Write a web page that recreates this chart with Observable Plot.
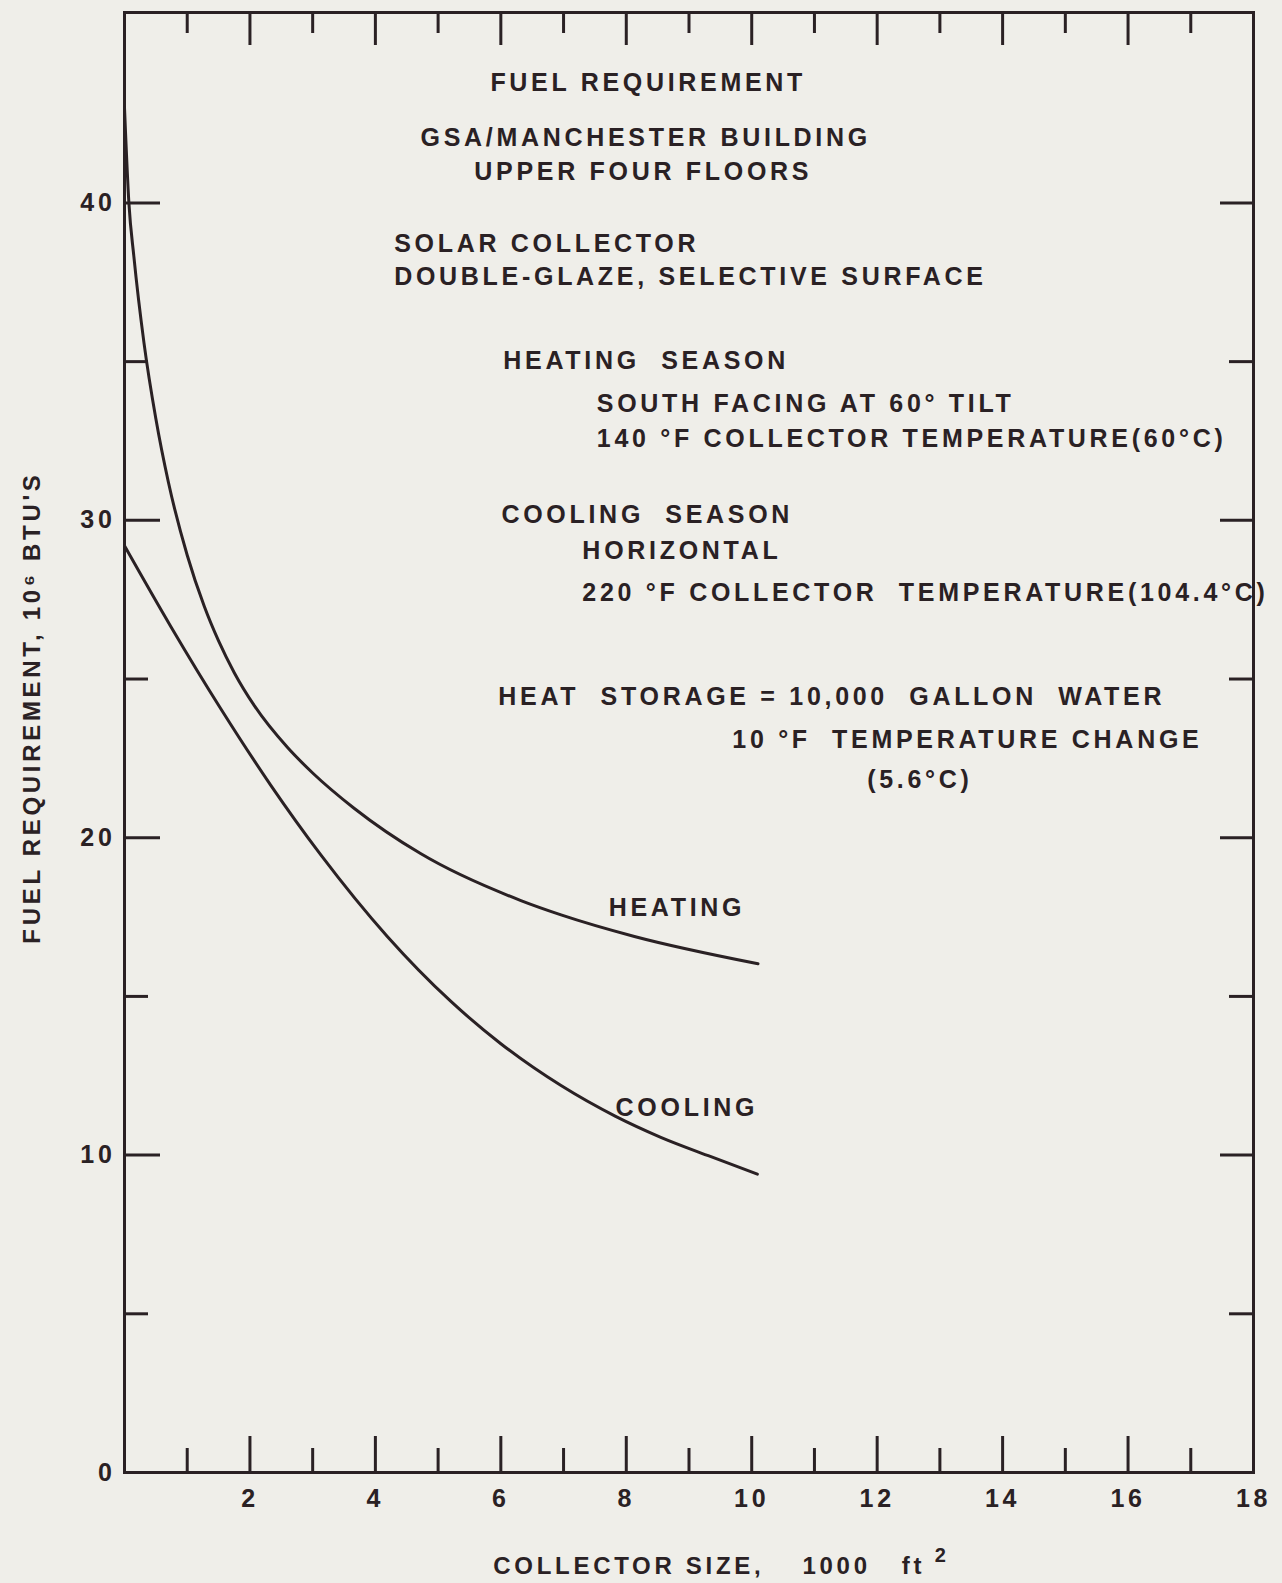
<!DOCTYPE html>
<html>
<head>
<meta charset="utf-8">
<script src="https://cdn.jsdelivr.net/npm/d3@7"></script>
<script src="https://cdn.jsdelivr.net/npm/@observablehq/plot@0.6"></script>
<style>
html, body { margin: 0; padding: 0; background: #efeee9; }
#chart svg { display: block; }
</style>
</head>
<body>
<div id="chart"></div>
<script>
// ---- data ----
const heatingSize = [0, 0.07, 0.15, 0.31, 0.5, 0.7, 1.0, 1.27, 1.5, 1.75, 2.07, 2.6, 3.0, 3.66, 4.72, 6.32, 6.96, 8.13, 10.1];
const heatingFuel = [43.0, 40.0, 38.3, 35.6, 33.2, 31.2, 28.9, 27.3, 26.2, 25.2, 24.16, 22.84, 22.04, 20.93, 19.5, 18.02, 17.57, 16.89, 16.03];
const coolingSize = [0, 0.74, 1.53, 2.33, 3.13, 4.19, 5.2, 6.0, 6.96, 7.83, 8.55, 9.35, 10.09];
const coolingFuel = [29.2, 26.65, 24.08, 21.66, 19.46, 16.89, 14.85, 13.51, 12.19, 11.22, 10.56, 9.95, 9.4];

const xMajorTicks = [2, 4, 6, 8, 10, 12, 14, 16, 18];
const xMinorTicks = [1, 3, 5, 7, 9, 11, 13, 15, 17];
const yMajorTicks = [0, 10, 20, 30, 40];
const yMinorTicks = [5, 15, 25, 35];
const xTickLabels = ["2", "4", "6", "8", "10", "12", "14", "16", "18"];
const yTickLabels = ["0", "10", "20", "30", "40"];

const xTitleParts = ["COLLECTOR SIZE,", "1000   ft", "2"];
const yTitle = "FUEL REQUIREMENT, 10⁶ BTU'S";

const headerLines = ["FUEL REQUIREMENT", "GSA/MANCHESTER BUILDING", "UPPER FOUR FLOORS"];
const noteLines = [
  "SOLAR COLLECTOR",
  "DOUBLE-GLAZE, SELECTIVE SURFACE",
  "HEATING  SEASON",
  "SOUTH FACING AT 60° TILT",
  "140 °F COLLECTOR TEMPERATURE(60°C)",
  "COOLING  SEASON",
  "HORIZONTAL",
  "220 °F COLLECTOR  TEMPERATURE(104.4°C)",
  "HEAT  STORAGE = 10,000  GALLON  WATER",
  "10 °F  TEMPERATURE CHANGE"
];
const centeredNote = "(5.6°C)";
const seriesNames = ["HEATING", "COOLING"];

// ---- tables built from the arrays ----
const heating = heatingSize.map((x, i) => ({x, y: heatingFuel[i]}));
const cooling = coolingSize.map((x, i) => ({x, y: coolingFuel[i]}));

const ink = "#2a2124";
const bg = "#efeee9";

// annotation anchors in data units (collector size, fuel requirement)
const headerPos = [[8.35, 43.79], [8.31, 42.06], [8.27, 40.99]];
const notePos = [
  [4.30, 38.72], [4.30, 37.68],
  [6.04, 35.03], [7.53, 33.68], [7.53, 32.55],
  [6.01, 30.18], [7.30, 29.02], [7.30, 27.72],
  [5.96, 24.42], [9.69, 23.09]
];
const headers = headerLines.map((t, i) => ({t, x: headerPos[i][0], y: headerPos[i][1]}));
const notes = noteLines.map((t, i) => ({t, x: notePos[i][0], y: notePos[i][1]}));
const seriesLabels = [
  {t: seriesNames[0], x: 7.72, y: 17.77},
  {t: seriesNames[1], x: 7.83, y: 11.50}
];

const W = 1282, H = 1583;
const mL = 124, mR = 29, mT = 12, mB = 111;
const fw = W - mL - mR, fh = H - mT - mB;

const chart = Plot.plot({
  width: W,
  height: H,
  marginLeft: mL,
  marginRight: mR,
  marginTop: mT,
  marginBottom: mB,
  style: {
    background: bg,
    color: ink,
    fontFamily: "'Liberation Sans', Arial, sans-serif",
    fontSize: "25px",
    fontWeight: "bold",
    letterSpacing: "3.7px"
  },
  x: {domain: [0, 18]},
  y: {domain: [0, 46]},
  marks: [
    // tick labels
    Plot.axisX(xMajorTicks, {tickSize: 0, tickPadding: 17, tickFormat: (d, i) => xTickLabels[i], label: null, fontSize: 25}),
    Plot.axisY(yMajorTicks, {tickSize: 0, tickPadding: 9, tickFormat: (d, i) => yTickLabels[i], label: null, fontSize: 25}),
    // inward tick marks
    Plot.ruleX(xMajorTicks, {x: d => d, stroke: ink, strokeWidth: 3, insetTop: fh - 36}),
    Plot.ruleX(xMinorTicks, {x: d => d, stroke: ink, strokeWidth: 3, insetTop: fh - 24}),
    Plot.ruleX(xMajorTicks, {x: d => d, stroke: ink, strokeWidth: 3, insetBottom: fh - 33}),
    Plot.ruleX(xMinorTicks, {x: d => d, stroke: ink, strokeWidth: 3, insetBottom: fh - 21}),
    Plot.ruleY(yMajorTicks, {y: d => d, stroke: ink, strokeWidth: 3, insetRight: fw - 36}),
    Plot.ruleY(yMinorTicks, {y: d => d, stroke: ink, strokeWidth: 3, insetRight: fw - 24}),
    Plot.ruleY(yMajorTicks, {y: d => d, stroke: ink, strokeWidth: 3, insetLeft: fw - 33}),
    Plot.ruleY(yMinorTicks, {y: d => d, stroke: ink, strokeWidth: 3, insetLeft: fw - 24}),
    Plot.frame({stroke: ink, strokeWidth: 3}),
    // curves
    Plot.line(heating, {x: "x", y: "y", curve: "monotone-x", stroke: ink, strokeWidth: 3}),
    Plot.line(cooling, {x: "x", y: "y", curve: "monotone-x", stroke: ink, strokeWidth: 3}),
    // texts
    Plot.text(headers, {x: "x", y: "y", text: "t", textAnchor: "middle", fill: ink}),
    Plot.text(notes, {x: "x", y: "y", text: "t", textAnchor: "start", fill: ink}),
    Plot.text([centeredNote], {x: 12.68, y: 21.83, text: d => d, textAnchor: "middle", fill: ink}),
    Plot.text(seriesLabels, {x: "x", y: "y", text: "t", textAnchor: "start", fill: ink, letterSpacing: "3.3px"}),
    Plot.text([xTitleParts[0]], {x: 5.88, y: -2.96, text: d => d, textAnchor: "start", fill: ink, fontSize: 24, letterSpacing: "3.8px"}),
    Plot.text([xTitleParts[1]], {x: 10.81, y: -2.96, text: d => d, textAnchor: "start", fill: ink, fontSize: 24, letterSpacing: "4.6px"}),
    Plot.text([xTitleParts[2]], {x: 12.92, y: -2.62, text: d => d, textAnchor: "start", fill: ink, fontSize: 20, letterSpacing: "0px"}),
    Plot.text([yTitle], {x: -1.47, y: 24.1, text: d => d, rotate: -90, textAnchor: "middle", fill: ink, fontSize: 24})
  ]
});

document.getElementById("chart").appendChild(chart);
</script>
</body>
</html>
